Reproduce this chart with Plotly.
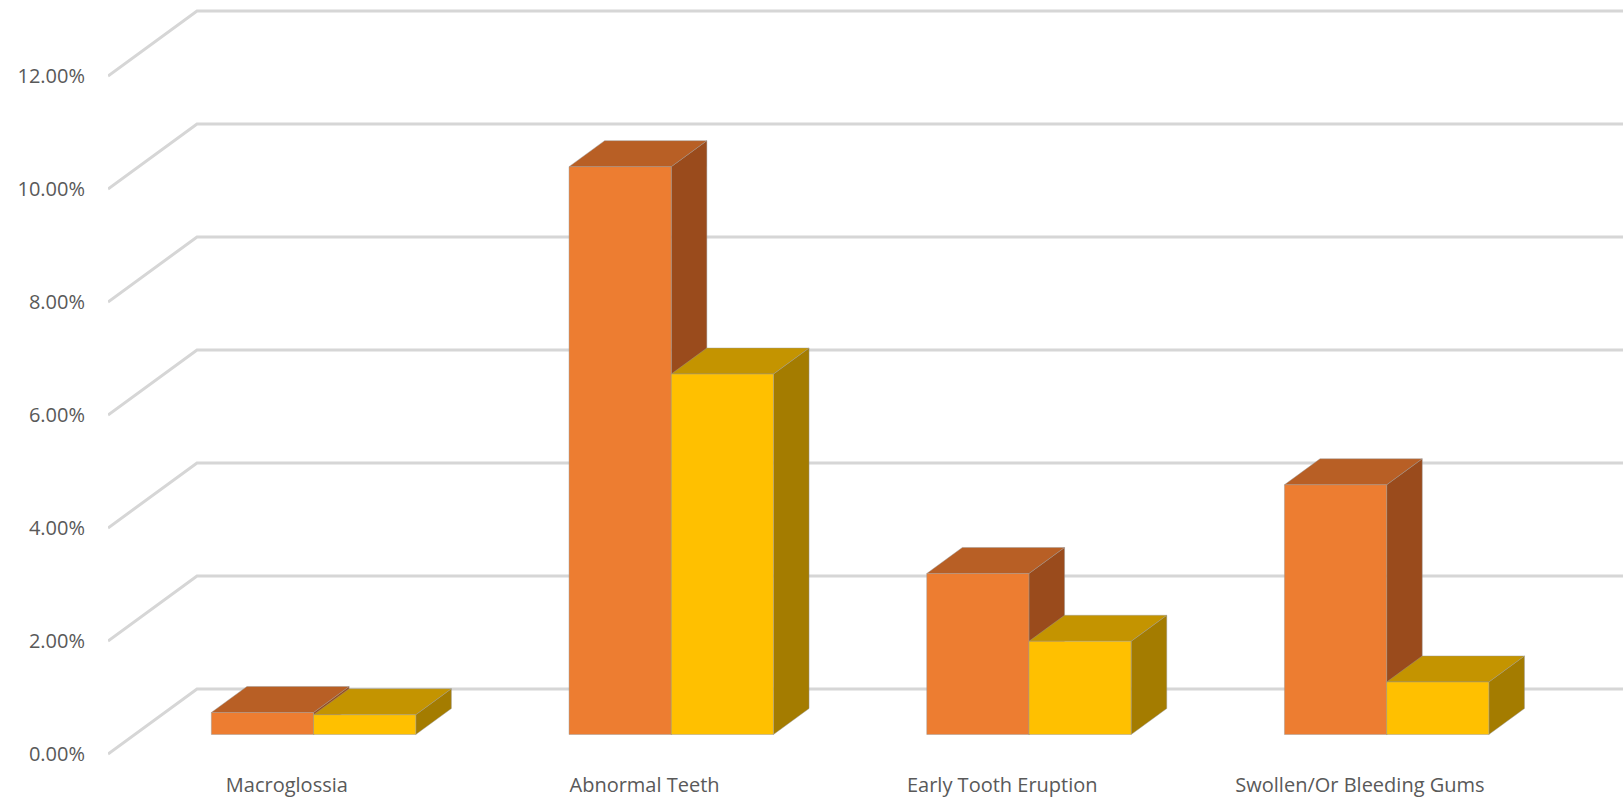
import plotly.graph_objects as go

# ---- data ----
categories = ["Macroglossia", "Abnormal Teeth", "Early Tooth Eruption", "Swollen/Or Bleeding Gums"]
series_a = [0.39, 10.05, 2.85, 4.42]   # orange series (%)
series_b = [0.35, 6.38, 1.65, 0.93]    # yellow series (%)
y_ticks = [0, 2, 4, 6, 8, 10, 12]

# ---- geometry / style (oblique 3D projection in data units) ----
W, H = 1623, 798
X0_PX = 108            # left edge of floor front
CAT_PX = 357.7         # px per category
VAL_PX = 56.5          # px per 1 %
FRONT0_PX = 754        # px of 0 % on the front wall
DX = 89 / CAT_PX       # depth shift in category units
DY = 65 / VAL_PX       # depth shift in % units
GAP_W = 1.5            # gap width (Excel style)
BAR_W = 1 / (2 + GAP_W)
D_FRONT, D_BACK = 0.3, 0.7

x_max = (W - X0_PX) / CAT_PX
plot_bottom_px = 760
y_top = FRONT0_PX / VAL_PX
y_bot = (FRONT0_PX - plot_bottom_px) / VAL_PX

styles = [
    dict(front="#ED7D31", top="#B85F25", side="#9A4B1C", name="Series 1"),
    dict(front="#FFC000", top="#C49400", side="#A47C00", name="Series 2"),
]
EDGE = "rgba(150,150,150,0.55)"
FONT = "Open Sans"
TXT = "#595959"

fig = go.Figure()

# gridlines: side wall diagonals + back wall horizontals
gx, gy = [], []
for v in y_ticks:
    gx += [0, DX, x_max, None]
    gy += [v, v + DY, v + DY, None]
fig.add_trace(go.Scatter(x=gx, y=gy, mode="lines", line=dict(color="#D6D6D6", width=3),
                         hoverinfo="skip", showlegend=False))


def P(x, v, d):
    return x + d * DX, v + d * DY


def poly(pts, color, hover=None, name=None):
    xs = [p[0] for p in pts] + [pts[0][0]]
    ys = [p[1] for p in pts] + [pts[0][1]]
    fig.add_trace(go.Scatter(
        x=xs, y=ys, mode="lines", fill="toself", fillcolor=color,
        line=dict(color=EDGE, width=0.8),
        hoverinfo="text" if hover else "skip", text=hover, hoveron="fills",
        name=name, showlegend=False))


for i, cat in enumerate(categories):
    start = i + GAP_W / 2 * BAR_W
    for s, vals in enumerate([series_a, series_b]):
        v = vals[i]
        xl = start + s * BAR_W
        xr = xl + BAR_W
        st = styles[s]
        # side face (right)
        poly([P(xr, 0, D_FRONT), P(xr, 0, D_BACK), P(xr, v, D_BACK), P(xr, v, D_FRONT)], st["side"])
        # top face
        poly([P(xl, v, D_FRONT), P(xr, v, D_FRONT), P(xr, v, D_BACK), P(xl, v, D_BACK)], st["top"])
        # front face
        poly([P(xl, 0, D_FRONT), P(xr, 0, D_FRONT), P(xr, v, D_FRONT), P(xl, v, D_FRONT)],
             st["front"], hover=f"{cat}<br>{v:.2f}%", name=st["name"])

fig.update_layout(
    width=W, height=H,
    margin=dict(l=X0_PX, r=0, t=0, b=H - plot_bottom_px),
    paper_bgcolor="white", plot_bgcolor="white",
    font=dict(family=FONT, size=20, color=TXT),
    showlegend=False,
    xaxis=dict(range=[0, x_max], showgrid=False, zeroline=False, showline=False,
               tickmode="array", tickvals=[i + 0.5 for i in range(len(categories))],
               ticktext=categories, ticks="", ticklabelstandoff=11,
               tickfont=dict(family=FONT, size=20, color=TXT), fixedrange=True),
    yaxis=dict(range=[y_bot, y_top], showgrid=False, zeroline=False, showline=False,
               tickmode="array", tickvals=y_ticks,
               ticktext=[f"{t:.2f}%" for t in y_ticks], ticks="", ticklabelstandoff=22,
               tickfont=dict(family=FONT, size=20, color=TXT), fixedrange=True),
)

fig.write_html("out.html", config={"displayModeBar": False},
               post_script="document.body.style.margin='0';document.body.style.overflow='hidden';")
